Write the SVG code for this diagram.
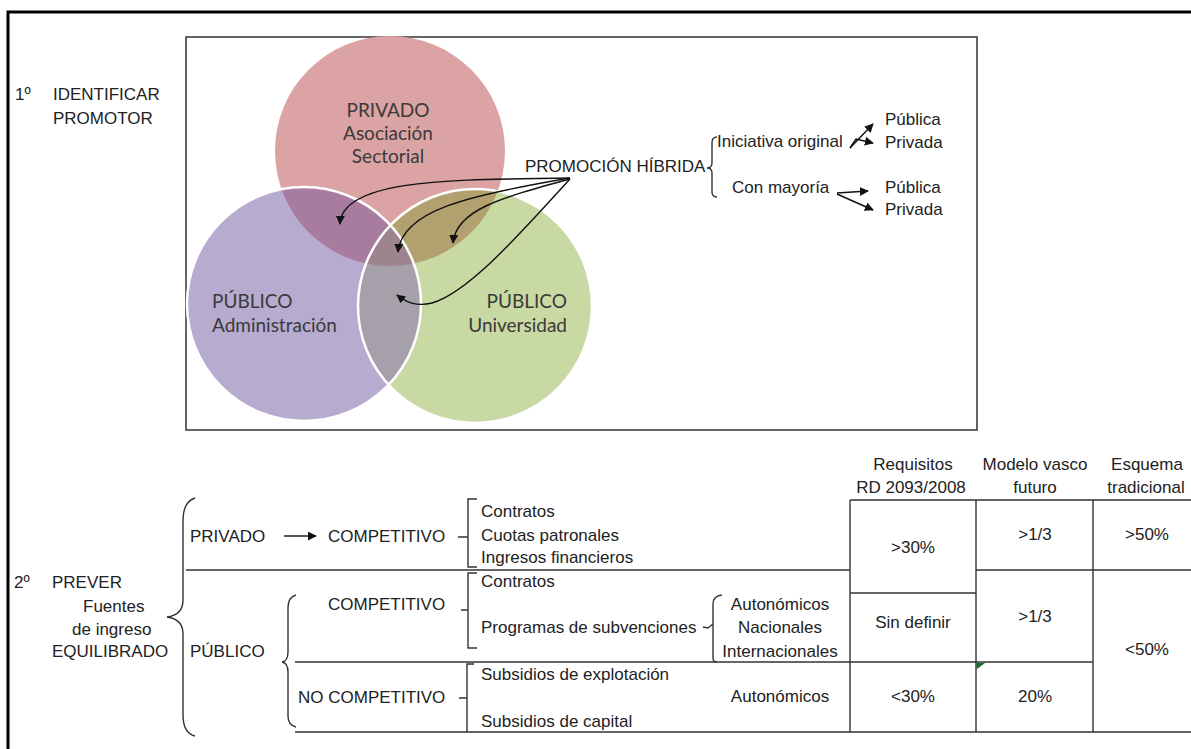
<svg xmlns="http://www.w3.org/2000/svg" width="1191" height="749" viewBox="0 0 1191 749">
<style>
.t{font-family:"Liberation Sans",Arial,sans-serif;font-size:17px;fill:#222}
.c{text-anchor:middle}
.v{font-family:Lato,"Open Sans",sans-serif;font-size:19px;fill:#3a3a3a}
.ln{stroke:#333;stroke-width:1.4;fill:none}
.ar{stroke:#111;stroke-width:1.4;fill:none}
.wh{fill:none;stroke:#fff;stroke-width:2.5}
</style>
<defs>
<marker id="ah" viewBox="0 0 10 10" refX="9" refY="5" markerWidth="9" markerHeight="9" markerUnits="userSpaceOnUse" orient="auto">
<path d="M0,0 L10,5 L0,10 z" fill="#111"/>
</marker>
<clipPath id="cPink"><circle cx="390" cy="151" r="115"/></clipPath>
<clipPath id="cPurp"><circle cx="304" cy="304" r="117"/></clipPath>
</defs>
<rect width="1191" height="749" fill="#fff"/>
<rect x="8" y="12" width="1200" height="800" fill="none" stroke="#000" stroke-width="3"/>

<g id="step1">
<text class="t" x="15" y="100">1º</text>
<text class="t" x="53" y="100">IDENTIFICAR</text>
<text class="t" x="53" y="124">PROMOTOR</text>
</g>

<g id="venn-box">
<rect x="186" y="37" width="791" height="393" fill="#fff" stroke="#333" stroke-width="1.5"/>
</g>

<g id="venn">
<circle cx="390" cy="151" r="115" fill="#dba3a3"/>
<circle cx="304" cy="304" r="117" fill="#b8abd0"/>
<circle cx="475" cy="306" r="117" fill="#c9d9a3"/>
<g clip-path="url(#cPink)"><circle cx="304" cy="304" r="117" fill="#a87c9f"/></g>
<g clip-path="url(#cPink)"><circle cx="475" cy="306" r="117" fill="#b2a16e"/></g>
<g clip-path="url(#cPurp)"><circle cx="475" cy="306" r="117" fill="#a6a0ab"/></g>
<g clip-path="url(#cPink)"><g clip-path="url(#cPurp)"><circle cx="475" cy="306" r="117" fill="#9d8590"/></g></g>
<circle class="wh" cx="304" cy="304" r="117"/>
<circle class="wh" cx="475" cy="306" r="117"/>
</g>

<g id="node-privado">
<text class="v c" x="388" y="117">PRIVADO</text>
<text class="v c" x="388" y="140">Asociación</text>
<text class="v c" x="388" y="163">Sectorial</text>
</g>
<g id="node-admin">
<text class="v" x="212" y="308">PÚBLICO</text>
<text class="v" x="212" y="332">Administración</text>
</g>
<g id="node-univ">
<text class="v" x="567" y="308" text-anchor="end">PÚBLICO</text>
<text class="v" x="567" y="332" text-anchor="end">Universidad</text>
</g>

<g id="node-hibrida">
<text class="t" x="525" y="172">PROMOCIÓN HÍBRIDA</text>
<text class="t" x="717" y="147">Iniciativa original</text>
<text class="t" x="885" y="125">Pública</text>
<text class="t" x="885" y="148">Privada</text>
<text class="t" x="732" y="193">Con mayoría</text>
<text class="t" x="885" y="193">Pública</text>
<text class="t" x="885" y="215">Privada</text>
</g>

<g id="connectors">
<path class="ar" d="M570,178 C470,180 342,176 340,224" marker-end="url(#ah)"/>
<path class="ar" d="M570,178 C470,195 402,210 398,252" marker-end="url(#ah)"/>
<path class="ar" d="M570,179 C500,198 456,210 453,243" marker-end="url(#ah)"/>
<path class="ar" d="M570,179 C525,228 470,292 432,303 C416,307 406,302 397,295" marker-end="url(#ah)"/>
<path class="ln" d="M717,137 Q712,137 712,143 L712,163 Q712,168 707,168 Q712,168 712,173 L712,192 Q712,197 717,197"/>
<path class="ar" d="M850,148 L873,124" marker-end="url(#ah)"/>
<path class="ar" d="M850,148 L856,139 L873,143" marker-end="url(#ah)"/>
<path class="ar" d="M837,193 L868,191" marker-end="url(#ah)"/>
<path class="ar" d="M837,194 L873,210" marker-end="url(#ah)"/>
<path class="ar" d="M284,536 L316,536" marker-end="url(#ah)"/>
<!-- big brace -->
<path class="ln" d="M195,498 Q183,502 183,520 L183,600 Q183,615 167,617 Q183,619 183,634 L183,715 Q183,733 195,736"/>
<!-- PUBLICO brace -->
<path class="ln" d="M296,595 Q288,597 288,608 L288,652 Q288,661 282,662 Q288,663 288,672 L288,716 Q288,725 296,727"/>
<!-- brackets -->
<path class="ln" d="M458,537 L468,537 M477,499 L468,499 L468,567 L477,567"/>
<path class="ln" d="M461,610 L468,610 M477,573 L468,573 L468,648 L477,648"/>
<path class="ln" d="M459,698 L467,698 M474,664 L467,664 L467,732"/>
<!-- subvenciones brace -->
<path class="ln" d="M703,627 L708,628 L713,624 M722,595 Q713,596 713,604 L713,658 Q713,662 717,662"/>
<!-- rows -->
<path class="ln" d="M186,570 L850,570 M976,570 L1191,570 M295,662 L1093,662 M295,732 L1191,732 M850,500 L1191,500 M850,593 L976,593 M850,500 L850,732 M976,500 L976,732 M1093,500 L1093,732"/>
<polygon points="976,663 985,663 977,669" fill="#1d6b2a"/>
</g>

<g id="step2">
<text class="t" x="14" y="588">2º</text>
<text class="t" x="52" y="588">PREVER</text>
<text class="t" x="83" y="612">Fuentes</text>
<text class="t" x="72" y="635">de ingreso</text>
<text class="t" x="52" y="657">EQUILIBRADO</text>
</g>

<g id="node-privado2">
<text class="t" x="190" y="542">PRIVADO</text>
<text class="t" x="328" y="542">COMPETITIVO</text>
<text class="t" x="481" y="517">Contratos</text>
<text class="t" x="481" y="541">Cuotas patronales</text>
<text class="t" x="481" y="563">Ingresos financieros</text>
</g>

<g id="node-publico2">
<text class="t" x="190" y="657">PÚBLICO</text>
<text class="t" x="328" y="610">COMPETITIVO</text>
<text class="t" x="298" y="703">NO COMPETITIVO</text>
<text class="t" x="481" y="587">Contratos</text>
<text class="t" x="481" y="633">Programas de subvenciones</text>
<text class="t c" x="780" y="610">Autonómicos</text>
<text class="t c" x="780" y="633">Nacionales</text>
<text class="t c" x="780" y="657">Internacionales</text>
<text class="t" x="481" y="680">Subsidios de explotación</text>
<text class="t c" x="780" y="702">Autonómicos</text>
<text class="t" x="481" y="727">Subsidios de capital</text>
</g>

<g id="table">
<text class="t c" x="913" y="470">Requisitos</text>
<text class="t c" x="911" y="493">RD 2093/2008</text>
<text class="t c" x="1035" y="470">Modelo vasco</text>
<text class="t c" x="1035" y="493">futuro</text>
<text class="t c" x="1147" y="470">Esquema</text>
<text class="t c" x="1146" y="493">tradicional</text>
<text class="t c" x="913" y="553">&gt;30%</text>
<text class="t c" x="913" y="628">Sin definir</text>
<text class="t c" x="913" y="702">&lt;30%</text>
<text class="t c" x="1035" y="540">&gt;1/3</text>
<text class="t c" x="1035" y="622">&gt;1/3</text>
<text class="t c" x="1035" y="702">20%</text>
<text class="t c" x="1147" y="540">&gt;50%</text>
<text class="t c" x="1147" y="655">&lt;50%</text>
</g>
</svg>
